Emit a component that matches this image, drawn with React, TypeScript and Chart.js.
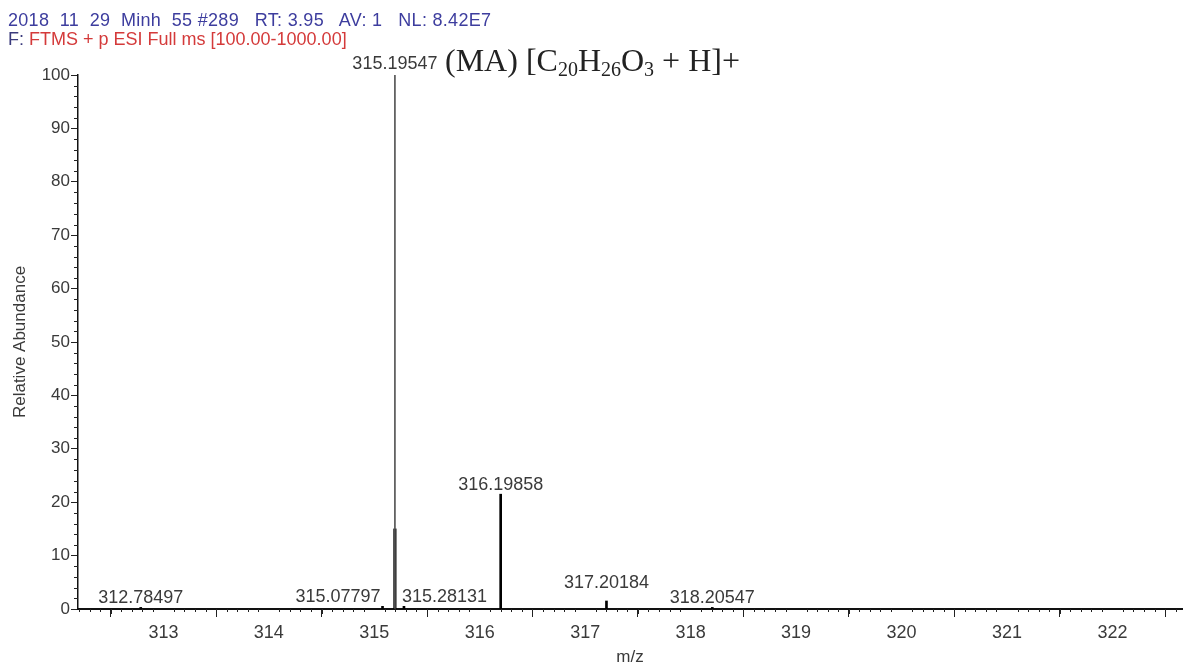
import React, { useEffect, useRef } from 'react';
import { Chart, registerables } from 'chart.js';

Chart.register(...registerables);

// ---- data ----
const peakMz = [312.78497, 315.07797, 315.19547, 315.28131, 316.19858, 317.20184, 318.20547];
const peakAbundance = [0.3, 0.5, 100, 0.5, 21.5, 1.5, 0.3];
const peakLabels = ['312.78497', '315.07797', '315.19547', '315.28131', '316.19858', '317.20184', '318.20547'];
const basePeakIndex = 2;
// lower, denser part of the base peak profile
const profileMz = [315.19547];
const profileAbundance = [15];
const xTickValues = [313, 314, 315, 316, 317, 318, 319, 320, 321, 322];
const yTickValues = [0, 10, 20, 30, 40, 50, 60, 70, 80, 90, 100];
const xRange = [312.19, 322.66];
const yRange = [0, 100];
const headerLine1 = '2018  11  29  Minh  55 #289   RT: 3.95   AV: 1   NL: 8.42E7';
const headerLine2Prefix = 'F: ';
const headerLine2 = 'FTMS + p ESI Full ms [100.00-1000.00]';

// ---- styles ----
const labelAlign = ['center', 'right', 'center', 'left', 'center', 'center', 'center'];
const labelLift = [0, 0, 2, 0, 0, 9, 0];
const SANS = '"Liberation Sans", Arial, sans-serif';
const TEXT = '#3a3a3a';
const FONT_SIZE = 18;

const decorPlugin = {
  id: 'spectrumDecor',
  afterDraw(chart: any) {
    const { ctx, chartArea } = chart;
    const xs = chart.scales.x;
    const ys = chart.scales.y;
    ctx.save();
    // minor ticks on y
    ctx.strokeStyle = '#222';
    ctx.lineWidth = 1;
    ctx.beginPath();
    for (let v = yRange[0]; v <= yRange[1]; v += 2) {
      if (v % 10 === 0) continue;
      const y = Math.round(ys.getPixelForValue(v)) + 0.5;
      ctx.moveTo(chartArea.left - 4, y);
      ctx.lineTo(chartArea.left, y);
    }
    // minor ticks on x
    const start = Math.ceil(xRange[0] * 10);
    const end = Math.floor(xRange[1] * 10);
    for (let k = start; k <= end; k++) {
      if (k % 10 === 0) continue;
      const x = Math.round(xs.getPixelForValue(k / 10)) + 0.5;
      const len = k % 5 === 0 ? 5 : 3;
      ctx.moveTo(x, chartArea.bottom);
      ctx.lineTo(x, chartArea.bottom + len);
    }
    ctx.stroke();
    // peak labels
    ctx.fillStyle = TEXT;
    ctx.font = `${FONT_SIZE}px ${SANS}`;
    ctx.textBaseline = 'alphabetic';
    peakMz.forEach((m, i) => {
      const x = xs.getPixelForValue(m);
      const y = ys.getPixelForValue(peakAbundance[i]) - 4 - labelLift[i];
      const a = labelAlign[i];
      ctx.textAlign = a as CanvasTextAlign;
      const dx = a === 'right' ? -2 : a === 'left' ? -2 : 0;
      ctx.fillText(peakLabels[i], x + dx, y);
    });
    ctx.restore();
  },
};

export default function App() {
  const canvasRef = useRef<HTMLCanvasElement | null>(null);

  useEffect(() => {
    const canvas = canvasRef.current;
    if (!canvas) return;
    const others = peakMz.map((m, i) => ({ x: m, y: peakAbundance[i] })).filter((_, i) => i !== basePeakIndex);
    const base = [{ x: peakMz[basePeakIndex], y: peakAbundance[basePeakIndex] }];
    const profile = profileMz.map((m, i) => ({ x: m, y: profileAbundance[i] }));
    const chart = new Chart(canvas, {
      type: 'bar',
      data: {
        datasets: [
          { label: 'base peak', data: base, backgroundColor: '#555555', barThickness: 1, grouped: false } as any,
          { label: 'profile', data: profile, backgroundColor: '#000000', barThickness: 2.5, grouped: false } as any,
          { label: 'peaks', data: others, backgroundColor: '#000000', barThickness: 2, grouped: false } as any,
        ],
      },
      options: {
        animation: false,
        responsive: false,
        devicePixelRatio: 1,
        layout: { padding: { top: 75, right: 10, left: 0, bottom: 0 } },
        plugins: { legend: { display: false }, tooltip: { enabled: false } },
        scales: {
          x: {
            type: 'linear',
            min: xRange[0],
            max: xRange[1],
            offset: false,
            afterBuildTicks: (s: any) => {
              s.ticks = xTickValues.map((v) => ({ value: v }));
            },
            afterFit: (s: any) => {
              s.height = 59;
            },
            grid: { display: true, drawOnChartArea: false, drawTicks: true, tickLength: 8, tickColor: '#222', tickWidth: 1 },
            border: { display: true, color: '#111', width: 2 },
            ticks: {
              color: TEXT,
              font: { family: SANS, size: FONT_SIZE },
              padding: 5,
              maxRotation: 0,
              autoSkip: false,
              callback: (v: any) => String(v),
            },
            title: { display: true, text: 'm/z', color: TEXT, font: { family: SANS, size: 17 }, padding: { top: 0, bottom: 0 } },
          },
          y: {
            min: yRange[0],
            max: yRange[1],
            afterBuildTicks: (s: any) => {
              s.ticks = yTickValues.map((v) => ({ value: v }));
            },
            afterFit: (s: any) => {
              s.width = 78;
            },
            grid: { display: true, drawOnChartArea: false, drawTicks: true, tickLength: 7, tickColor: '#222', tickWidth: 1 },
            border: { display: true, color: '#111', width: 1.5 },
            ticks: { color: TEXT, font: { family: SANS, size: 17 }, padding: 1, callback: (v: any) => String(v) },
            title: {
              display: true,
              text: 'Relative Abundance',
              color: TEXT,
              font: { family: SANS, size: 17 },
              padding: { top: 10, bottom: 0 },
            },
          },
        },
      },
      plugins: [decorPlugin],
    } as any);
    return () => chart.destroy();
  }, []);

  return (
    <div style={{ position: 'absolute', left: 0, top: 0, width: 1192, height: 668, background: '#fff', overflow: 'hidden' }}>
      <canvas ref={canvasRef} width={1192} height={668} style={{ position: 'absolute', left: 0, top: 0 }} />
      <div
        style={{
          position: 'absolute',
          left: 8,
          top: 11,
          font: `18px ${SANS}`,
          lineHeight: '19px',
          whiteSpace: 'pre',
          color: '#3d3d9e',
        }}
      >
        <div style={{ letterSpacing: '0.3px' }}>{headerLine1}</div>
        <div>
          <span style={{ color: '#3a3a7c' }}>{headerLine2Prefix}</span>
          <span style={{ color: '#d43a3a' }}>{headerLine2}</span>
        </div>
      </div>
      <div
        style={{
          position: 'absolute',
          left: 445,
          top: 42,
          font: '32px "Liberation Serif", "Times New Roman", serif',
          lineHeight: '36px',
          whiteSpace: 'pre',
          color: '#222',
        }}
      >
        (MA) [C<sub style={{ fontSize: '20px', verticalAlign: '-5px' }}>20</sub>H
        <sub style={{ fontSize: '20px', verticalAlign: '-5px' }}>26</sub>O
        <sub style={{ fontSize: '20px', verticalAlign: '-5px' }}>3</sub> + H]+
      </div>
    </div>
  );
}
